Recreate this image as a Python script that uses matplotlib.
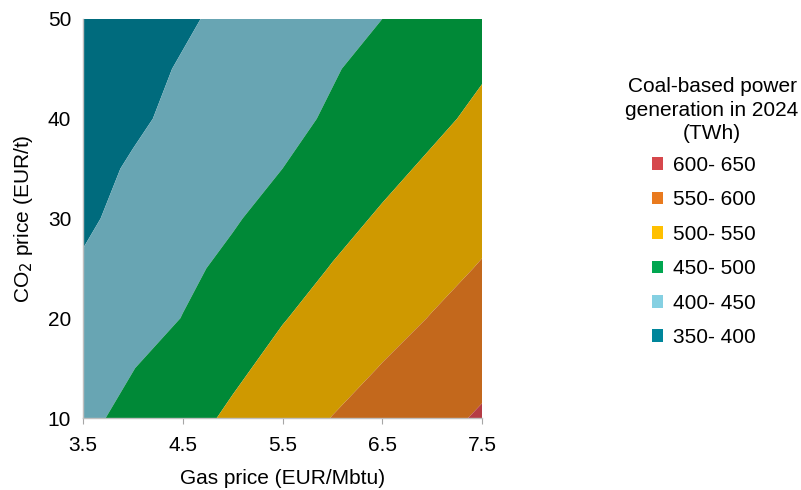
import numpy as np
import matplotlib.pyplot as plt
from matplotlib.patches import Patch

plt.rcParams['font.family'] = ['Liberation Sans', 'DejaVu Sans']

# precio del gas (EUR/Mbtu) y del CO2 (EUR/t)
gas = [3.5, 4.0, 4.5, 5.0, 5.5, 6.0, 6.5, 7.0, 7.5]
co2 = [10, 15, 20, 25, 30, 35, 40, 45, 50]

# generacion con carbon en 2024 (TWh), filas = co2, columnas = gas
coal_twh = [
    [440, 462, 485, 507, 529, 551, 569, 587, 605],
    [428, 449, 471, 492, 513, 532, 552, 570, 588],
    [410, 430, 451, 474, 498, 516, 534, 552, 570],
    [404, 422, 441, 460, 481, 502, 519, 536, 553],
    [394, 411, 429, 446, 466, 486, 505, 522, 538],
    [388, 404, 419, 435, 450, 470, 489, 507, 524],
    [379, 394, 409, 424, 439, 455, 473, 491, 509],
    [374, 389, 403, 418, 432, 447, 463, 479, 496],
    [367, 381, 395, 409, 422, 436, 450, 464, 477],
]

niveles = [350, 400, 450, 500, 550, 600, 650]
etiquetas = ["350- 400", "400- 450", "450- 500", "500- 550", "550- 600", "600- 650"]
colores_mapa = ['#006B7D', '#68A5B3', '#008937', '#CF9900', '#C3681C', '#B53C45']
colores_leyenda = ['#00869B', '#85D0E2', '#00A650', '#FFC000', '#E97A1E', '#D6474C']

G, C = np.meshgrid(gas, co2)
V = np.array(coal_twh, dtype=float)

fig = plt.figure(figsize=(8.01, 4.90), dpi=100)
ax = fig.add_axes([83/801, 72/490, 399/801, 399/490])
ax.contourf(G, C, V, levels=niveles, colors=colores_mapa, antialiased=True)

ax.set_xlim(3.5, 7.5)
ax.set_ylim(10, 50)
ax.set_xticks([3.5, 4.5, 5.5, 6.5, 7.5])
ax.set_xticklabels(['3.5', '4.5', '5.5', '6.5', '7.5'])
ax.set_yticks([10, 20, 30, 40, 50])
ax.tick_params(axis='x', direction='out', length=4, color='#A6A6A6', labelsize=15, pad=9)
ax.tick_params(axis='y', direction='out', length=0, labelsize=15, pad=8.5)
for s in ['top', 'right']:
    ax.spines[s].set_visible(False)
for s in ['left', 'bottom']:
    ax.spines[s].set_color('#BFBFBF')
    ax.spines[s].set_linewidth(1)

ax.set_xlabel('Gas price (EUR/Mbtu)', fontsize=15, labelpad=10)
ax.set_ylabel('CO$_2$ price (EUR/t)', fontsize=15, labelpad=9)

# titulo de la leyenda aparte para controlar la posicion
fig.text(712/801, 1 - 77/490, 'Coal-based power\ngeneration in 2024\n(TWh)',
         ha='center', va='top', fontsize=15, linespacing=1.3, multialignment='center')

handles = [Patch(facecolor=c, edgecolor='none') for c in colores_leyenda[::-1]]
leg = fig.legend(handles, etiquetas[::-1], loc='upper left',
                 bbox_to_anchor=(652/801, 1 - 156/490), frameon=False, borderpad=0,
                 borderaxespad=0, fontsize=15, handlelength=0.55, handleheight=0.55,
                 handletextpad=0.46, labelspacing=0.74)

fig.savefig('out.png', dpi=100)
